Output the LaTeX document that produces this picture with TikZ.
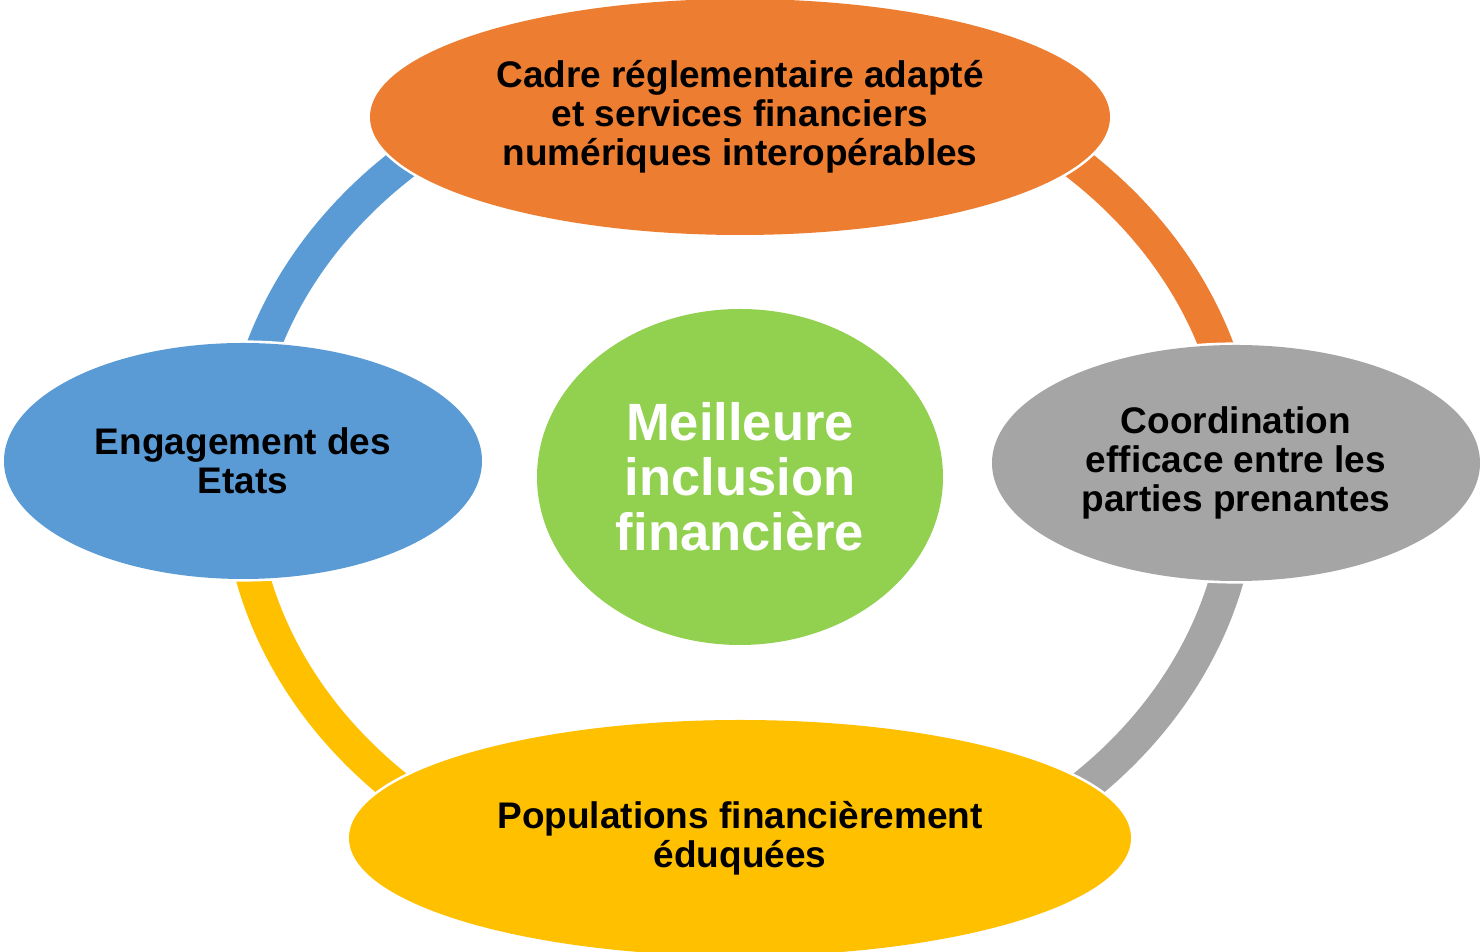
\documentclass[tikz,border=0pt]{standalone}
\usepackage{fontspec}
\setmainfont{Liberation Sans}
\usetikzlibrary{shapes.geometric}
\definecolor{cOrange}{HTML}{ED7D31}
\definecolor{cBlue}{HTML}{5B9BD5}
\definecolor{cGray}{HTML}{A5A5A5}
\definecolor{cYellow}{HTML}{FFC000}
\definecolor{cGreen}{HTML}{92D050}
\tikzset{
  ringarc/.style={line width=17pt, line cap=butt},
  bubble/.style={ellipse, inner sep=0pt, outer sep=0pt, align=center,
    preaction={draw=white, line width=2.6pt},
    font=\fontsize{18.5pt}{19.5pt}\selectfont\bfseries, text=black},
  hub/.style={ellipse, inner sep=0pt, outer sep=0pt, align=center,
    font=\fontsize{26.25pt}{27.5pt}\selectfont\bfseries, text=white}
}
\begin{document}
\begin{tikzpicture}[x=0.5pt,y=0.5pt]
\clip (0,0) rectangle (1480,952);
\fill[white] (0,0) rectangle (1480,952);
\coordinate (ringc) at (740,474);
% ring segments
\draw[ringarc, cBlue]   (ringc) ++(180:501 and 425) arc[start angle=180, end angle=90,   x radius=501, y radius=425];
\draw[ringarc, cOrange] (ringc) ++(90:501 and 425)  arc[start angle=90,  end angle=0,    x radius=501, y radius=425];
\draw[ringarc, cGray]   (ringc) ++(0:501 and 425)   arc[start angle=0,   end angle=-90,  x radius=501, y radius=425];
\draw[ringarc, cYellow] (ringc) ++(-90:501 and 425) arc[start angle=-90, end angle=-180, x radius=501, y radius=425];
% ellipses
\node[bubble, fill=cOrange, minimum width=370pt, minimum height=118pt] (top) at (740,835)
  {Cadre réglementaire adapté\\et services financiers\\numériques interopérables};
\node[bubble, fill=cBlue, minimum width=239pt, minimum height=118pt] (left) at (243,491)
  {Engagement des\\Etats};
\node[bubble, fill=cGray, minimum width=244pt, minimum height=118pt] (right) at (1236,489)
  {Coordination\\efficace entre les\\parties prenantes};
\node[bubble, fill=cYellow, minimum width=391pt, minimum height=118pt] (bottom) at (740,114)
  {Populations financièrement\\éduquées};
\node[hub, fill=cGreen, minimum width=203pt, minimum height=168pt] (center) at (740,475)
  {Meilleure\\inclusion\\financière};
\end{tikzpicture}
\end{document}
